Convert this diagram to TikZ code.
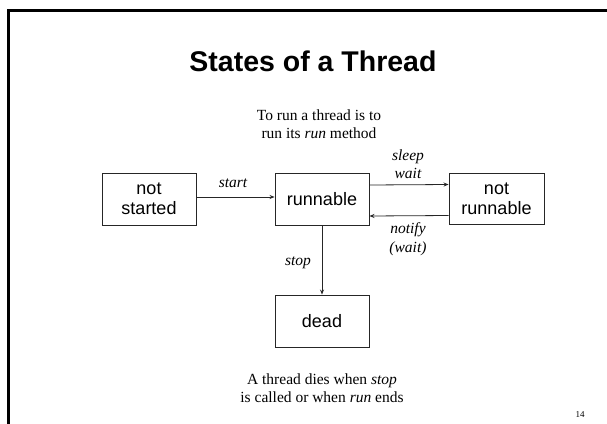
\documentclass[tikz,border=0pt]{standalone}
\usepackage{fontspec}
\setmainfont{Liberation Serif}
\newfontfamily\arialfont{Liberation Sans}
\usetikzlibrary{arrows.meta}
\begin{document}
\begin{tikzpicture}[x=1pt,y=-1pt,
  statebox/.style={draw=black!85,line width=0.9pt,minimum width=94pt,minimum height=52pt,
    inner sep=0pt,font=\arialfont\fontsize{18}{20}\selectfont,align=center},
  conn/.style={draw=black!85,line width=0.8pt,-{Stealth[length=5pt,width=4pt]}},
  lbl/.style={font=\fontsize{15.5}{18.5}\selectfont\itshape,align=center,inner sep=0pt},
  note/.style={font=\fontsize{15.5}{18.5}\selectfont,align=center,inner sep=0pt}]
\useasboundingbox (0,0) rectangle (607,423);
\fill[white] (0,0) rectangle (607,423);
% slide frame
\coordinate (fc) at (8.7,10.3);
\coordinate (ftr) at (607,10.3);
\coordinate (fbl) at (8.7,423);
\draw[line width=2.7pt,line cap=rect] (ftr) -- (fc) -- (fbl);
% title
\node[font=\arialfont\bfseries\fontsize{28.5}{32}\selectfont,inner sep=0pt] (title) at (313,61) {States of a Thread};
\node[note] (top) at (319,124) {To run a thread is to\\run its \textit{run} method};
% states
\node[statebox] (ns) at (149,199) {not\\started};
\node[statebox] (rn) at (322,199) {runnable};
\node[statebox,minimum width=95pt,minimum height=51pt] (nr) at (496.5,198.5) {not\\runnable};
\node[statebox] (dead) at (322,321) {dead};
% connectors
\draw[conn] ([yshift=2pt]ns.east) -- ([yshift=2pt]rn.west);
\draw[conn] ([yshift=14pt]rn.east) -- ([yshift=14pt]nr.west);
\draw[conn] ([yshift=-17pt]nr.west) -- ([yshift=-17pt]rn.east);
\draw[conn] (rn.south) -- (dead.north);
% labels
\node[lbl] (lstart) at (233,183) {start};
\node[lbl] (lsleep) at (408,164) {sleep\\wait};
\node[lbl] (lnotify) at (408,239) {notify\\(wait)};
\node[lbl] (lstop) at (298,263) {stop};
\node[note] (bottom) at (322,388) {A thread dies when \textit{stop}\\is called or when \textit{run} ends};
\node[font=\fontsize{9}{10}\selectfont,inner sep=0pt] (page) at (580,415) {14};
\end{tikzpicture}
\end{document}
